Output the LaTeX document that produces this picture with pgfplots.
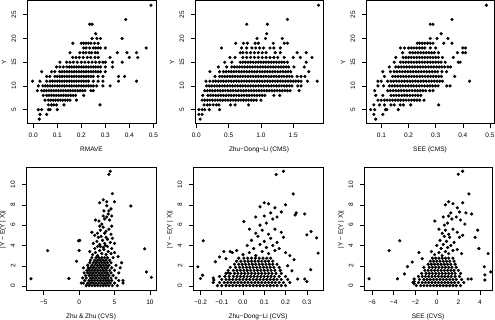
\documentclass[border=0pt]{standalone}
\usepackage{fontspec}
\setmainfont{Liberation Sans}
\usepackage{pgfplots}
\pgfplotsset{compat=1.18}

\pgfplotsset{
  rpanel/.style={
    scale only axis, width=129pt, height=123pt,
    anchor=south west,
    axis line style={line width=0.5pt},
    tick style={line width=0.5pt, black},
    tick align=outside, major tick length=4pt,
    tick pos=left,
    tick label style={font=\fontsize{6.5}{7.5}\selectfont},
    label style={font=\fontsize{6.5}{7.5}\selectfont},
    xticklabel style={anchor=center, yshift=-8pt},
    yticklabel style={rotate=90, anchor=center, yshift=9pt},
    xlabel style={at={(axis description cs:0.5,-0.211)}, anchor=center},
    ylabel style={at={(axis description cs:-0.178,0.5)}, anchor=center},
  },
  toprow/.style={ymin=2.04, ymax=27.96, ytick={5,10,15,20,25}, yticklabels={5,10,15,20,25}, ylabel={Y}},
  botrow/.style={ymin=-0.45, ymax=11.65, ytick={0,2,4,6,8,10}, yticklabels={0,2,4,6,8,10}, ylabel={|Y − E(Y | X)|}},
  rdots/.style={black, only marks, mark=*, mark size=1.4pt, mark options={draw=none, fill=black}},
}

\begin{document}
\begin{tikzpicture}
\path[use as bounding box] (0,0) rectangle (495pt,320pt);

% top left: RMAVE
\begin{axis}[rpanel, toprow, at={(27pt,196.3pt)}, width=129pt,
  xmin=-0.026, xmax=0.511, xtick={0,0.1,0.2,0.3,0.4,0.5}, xticklabels={0.0,0.1,0.2,0.3,0.4,0.5},
  xlabel={RMAVE}]
\addplot[rdots] coordinates {
(0.49,27) (0.385,24) (0.235,23) (0.245,23) (0.26,21)
(0.245,20) (0.265,20) (0.28,20) (0.37,20)
(0.165,19) (0.2,19) (0.21,19) (0.22,19) (0.23,19) (0.24,19) (0.255,19) (0.27,19)
(0.21,18) (0.22,18) (0.235,18) (0.25,18) (0.26,18) (0.27,18) (0.28,18) (0.3,18) (0.47,18)
(0.153,17) (0.194,17) (0.208,17) (0.219,17) (0.233,17) (0.243,17) (0.258,17) (0.268,17) (0.35,17) (0.39,17) (0.43,17)
(0.164,16) (0.178,16) (0.192,16) (0.208,16) (0.225,16) (0.239,16) (0.257,16) (0.271,16) (0.32,16) (0.4,16) (0.435,16)
(0.111,15) (0.139,15) (0.153,15) (0.167,15) (0.183,15) (0.2,15) (0.215,15) (0.23,15) (0.245,15) (0.26,15) (0.275,15) (0.29,15) (0.3,15) (0.33,15) (0.37,15)
(0.097,14) (0.111,14) (0.125,14) (0.14,14) (0.15,14) (0.16,14) (0.17,14) (0.18,14) (0.19,14) (0.2,14) (0.21,14) (0.22,14) (0.23,14) (0.24,14) (0.25,14) (0.26,14) (0.27,14) (0.28,14) (0.3,14) (0.33,14)
(0.035,13) (0.076,13) (0.09,13) (0.11,13) (0.12,13) (0.13,13) (0.14,13) (0.15,13) (0.16,13) (0.17,13) (0.18,13) (0.19,13) (0.2,13) (0.21,13) (0.22,13) (0.23,13) (0.24,13) (0.25,13) (0.26,13) (0.27,13) (0.28,13) (0.3,13)
(0.056,12) (0.069,12) (0.09,12) (0.1,12) (0.11,12) (0.12,12) (0.13,12) (0.14,12) (0.15,12) (0.16,12) (0.17,12) (0.18,12) (0.19,12) (0.2,12) (0.21,12) (0.22,12) (0.23,12) (0.24,12) (0.25,12) (0.27,12) (0.29,12) (0.355,12) (0.38,12)
(-0.003,11) (0.028,11) (0.056,11) (0.07,11) (0.08,11) (0.09,11) (0.1,11) (0.11,11) (0.12,11) (0.13,11) (0.14,11) (0.15,11) (0.16,11) (0.17,11) (0.18,11) (0.19,11) (0.2,11) (0.21,11) (0.22,11) (0.23,11) (0.25,11) (0.27,11) (0.29,11) (0.355,11) (0.43,11)
(0.021,10) (0.04,10) (0.05,10) (0.06,10) (0.07,10) (0.08,10) (0.09,10) (0.1,10) (0.11,10) (0.12,10) (0.13,10) (0.14,10) (0.15,10) (0.16,10) (0.17,10) (0.18,10) (0.19,10) (0.2,10) (0.21,10) (0.22,10) (0.23,10) (0.24,10) (0.25,10) (0.264,10) (0.29,10) (0.32,10)
(0.017,9) (0.035,9) (0.045,9) (0.055,9) (0.065,9) (0.075,9) (0.085,9) (0.095,9) (0.105,9) (0.115,9) (0.125,9) (0.135,9) (0.145,9) (0.155,9) (0.165,9) (0.175,9) (0.185,9) (0.195,9) (0.205,9) (0.215,9) (0.24,9) (0.25,9)
(0.042,8) (0.056,8) (0.066,8) (0.076,8) (0.086,8) (0.096,8) (0.106,8) (0.116,8) (0.126,8) (0.136,8) (0.146,8) (0.156,8) (0.166,8) (0.176,8) (0.21,8)
(0.049,7) (0.063,7) (0.073,7) (0.083,7) (0.093,7) (0.103,7) (0.113,7) (0.123,7) (0.133,7) (0.143,7) (0.153,7) (0.18,7)
(0.063,6) (0.076,6) (0.086,6) (0.097,6) (0.128,6) (0.278,6)
(0.021,5) (0.035,5) (0.063,5) (0.07,5) (0.1,5)
(0.028,4) (0.056,4) (0.025,3)
};
\end{axis}

% top middle: Zhu-Dong-Li (CMS)
\begin{axis}[rpanel, toprow, at={(195pt,196.3pt)}, width=128pt,
  xmin=-0.02, xmax=1.96, xtick={0,0.5,1,1.5}, xticklabels={0.0,0.5,1.0,1.5},
  xlabel={Zhu−Dong−Li (CMS)}]
\addplot[rdots] coordinates {
(1.89,27) (1.41,24) (0.78,23) (1.1,23) (1.09,21)
(0.94,20) (1.07,20) (1.33,20)
(0.61,19) (0.73,19) (0.79,19) (0.91,19) (0.96,19) (1.19,19) (1.36,19) (1.41,19)
(0.39,18) (0.7,18) (0.78,18) (0.86,18) (0.92,18) (0.98,18) (1.04,18) (1.14,18) (1.2,18) (1.3,18)
(0.68,17) (0.72,17) (0.78,17) (0.84,17) (0.9,17) (0.96,17) (1.02,17) (1.08,17) (1.22,17) (1.3,17) (1.56,17) (1.7,17)
(0.52,16) (0.6,16) (0.72,16) (0.78,16) (0.84,16) (0.9,16) (0.96,16) (1.02,16) (1.08,16) (1.14,16) (1.2,16) (1.26,16) (1.36,16) (1.5,16) (1.61,16) (1.79,16)
(0.44,15) (0.55,15) (0.68,15) (0.72,15) (0.76,15) (0.8,15) (0.84,15) (0.88,15) (0.92,15) (0.96,15) (1,15) (1.04,15) (1.08,15) (1.12,15) (1.16,15) (1.2,15) (1.24,15) (1.28,15) (1.32,15) (1.36,15) (1.41,15) (1.7,15)
(0.34,14) (0.47,14) (0.55,14) (0.59,14) (0.63,14) (0.67,14) (0.71,14) (0.75,14) (0.79,14) (0.83,14) (0.87,14) (0.91,14) (0.95,14) (0.99,14) (1.03,14) (1.07,14) (1.11,14) (1.15,14) (1.19,14) (1.23,14) (1.27,14) (1.31,14) (1.35,14) (1.39,14) (1.43,14) (1.51,14) (1.67,14)
(0.21,13) (0.36,13) (0.42,13) (0.46,13) (0.5,13) (0.54,13) (0.58,13) (0.62,13) (0.66,13) (0.7,13) (0.74,13) (0.78,13) (0.82,13) (0.86,13) (0.9,13) (0.94,13) (0.98,13) (1.02,13) (1.06,13) (1.1,13) (1.14,13) (1.18,13) (1.22,13) (1.26,13) (1.3,13) (1.34,13) (1.38,13) (1.42,13) (1.46,13) (1.74,13)
(0.29,12) (0.36,12) (0.4,12) (0.44,12) (0.48,12) (0.52,12) (0.56,12) (0.6,12) (0.64,12) (0.68,12) (0.72,12) (0.76,12) (0.8,12) (0.84,12) (0.88,12) (0.92,12) (0.96,12) (1,12) (1.04,12) (1.08,12) (1.12,12) (1.16,12) (1.2,12) (1.24,12) (1.28,12) (1.32,12) (1.36,12) (1.4,12) (1.44,12) (1.48,12) (1.56,12) (1.62,12) (1.68,12)
(0.15,11) (0.21,11) (0.26,11) (0.3,11) (0.34,11) (0.38,11) (0.42,11) (0.46,11) (0.5,11) (0.54,11) (0.58,11) (0.62,11) (0.66,11) (0.7,11) (0.74,11) (0.78,11) (0.82,11) (0.86,11) (0.9,11) (0.94,11) (0.98,11) (1.02,11) (1.06,11) (1.1,11) (1.14,11) (1.18,11) (1.22,11) (1.26,11) (1.3,11) (1.34,11) (1.38,11) (1.42,11) (1.46,11) (1.5,11) (1.54,11) (1.58,11) (1.62,11) (1.72,11) (1.87,11)
(0.16,10) (0.2,10) (0.24,10) (0.28,10) (0.32,10) (0.36,10) (0.4,10) (0.44,10) (0.48,10) (0.52,10) (0.56,10) (0.6,10) (0.64,10) (0.68,10) (0.72,10) (0.76,10) (0.8,10) (0.84,10) (0.88,10) (0.92,10) (0.96,10) (1,10) (1.04,10) (1.08,10) (1.12,10) (1.16,10) (1.2,10) (1.24,10) (1.28,10) (1.32,10) (1.36,10) (1.4,10) (1.44,10) (1.48,10) (1.57,10) (1.62,10)
(0.13,9) (0.17,9) (0.21,9) (0.25,9) (0.29,9) (0.33,9) (0.37,9) (0.41,9) (0.45,9) (0.49,9) (0.53,9) (0.57,9) (0.61,9) (0.65,9) (0.69,9) (0.73,9) (0.77,9) (0.81,9) (0.85,9) (0.89,9) (0.93,9) (0.97,9) (1.01,9) (1.05,9) (1.09,9) (1.13,9) (1.17,9) (1.21,9) (1.25,9) (1.29,9) (1.33,9) (1.37,9) (1.41,9) (1.45,9) (1.59,9)
(0.1,8) (0.18,8) (0.22,8) (0.26,8) (0.3,8) (0.34,8) (0.38,8) (0.42,8) (0.46,8) (0.5,8) (0.54,8) (0.58,8) (0.62,8) (0.66,8) (0.7,8) (0.74,8) (0.78,8) (0.82,8) (0.86,8) (0.9,8) (0.94,8) (0.98,8) (1.02,8) (1.06,8) (1.2,8) (1.29,8)
(0.09,7) (0.13,7) (0.17,7) (0.21,7) (0.25,7) (0.29,7) (0.33,7) (0.37,7) (0.41,7) (0.45,7) (0.49,7) (0.53,7) (0.57,7) (0.61,7) (0.65,7) (0.69,7) (0.73,7) (0.77,7) (0.81,7) (0.85,7) (0.89,7) (0.93,7) (1,7)
(0.12,6) (0.17,6) (0.21,6) (0.26,6) (0.31,6) (0.35,6) (0.53,6) (0.6,6) (0.81,6)
(0.04,5) (0.09,5) (0.13,5) (0.2,5) (0.36,5)
(0.04,4) (0.09,4) (0.06,3)
};
\end{axis}

% top right: SEE (CMS)
\begin{axis}[rpanel, toprow, at={(366pt,196.3pt)}, width=128pt,
  xmin=0.043, xmax=0.515, xtick={0.1,0.2,0.3,0.4,0.5}, xticklabels={0.1,0.2,0.3,0.4,0.5},
  xlabel={SEE (CMS)}]
\addplot[rdots] coordinates {
(0.487,27) (0.36,24) (0.28,23) (0.29,23) (0.32,21)
(0.28,20) (0.305,20) (0.345,20)
(0.232,19) (0.24,19) (0.25,19) (0.26,19) (0.27,19) (0.28,19) (0.29,19) (0.33,19) (0.36,19)
(0.17,18) (0.185,18) (0.2,18) (0.21,18) (0.22,18) (0.23,18) (0.24,18) (0.25,18) (0.26,18) (0.28,18) (0.3,18) (0.4,18) (0.41,18)
(0.178,17) (0.205,17) (0.215,17) (0.225,17) (0.235,17) (0.245,17) (0.255,17) (0.265,17) (0.275,17) (0.285,17) (0.295,17) (0.31,17) (0.38,17) (0.4,17) (0.41,17)
(0.153,16) (0.18,16) (0.19,16) (0.2,16) (0.21,16) (0.22,16) (0.23,16) (0.24,16) (0.25,16) (0.26,16) (0.27,16) (0.28,16) (0.29,16) (0.3,16) (0.31,16) (0.325,16) (0.365,16)
(0.147,15) (0.17,15) (0.18,15) (0.19,15) (0.2,15) (0.21,15) (0.22,15) (0.23,15) (0.24,15) (0.25,15) (0.26,15) (0.27,15) (0.28,15) (0.29,15) (0.3,15) (0.31,15) (0.32,15) (0.335,15) (0.383,15) (0.39,15)
(0.129,14) (0.153,14) (0.163,14) (0.173,14) (0.183,14) (0.193,14) (0.203,14) (0.213,14) (0.223,14) (0.233,14) (0.243,14) (0.253,14) (0.263,14) (0.273,14) (0.283,14) (0.293,14) (0.303,14) (0.313,14) (0.323,14) (0.333,14) (0.345,14) (0.355,14)
(0.105,13) (0.133,13) (0.147,13) (0.157,13) (0.167,13) (0.177,13) (0.187,13) (0.197,13) (0.207,13) (0.217,13) (0.227,13) (0.237,13) (0.247,13) (0.257,13) (0.267,13) (0.277,13) (0.287,13) (0.297,13) (0.307,13) (0.323,13) (0.34,13)
(0.111,12) (0.141,12) (0.151,12) (0.161,12) (0.171,12) (0.181,12) (0.191,12) (0.201,12) (0.211,12) (0.221,12) (0.231,12) (0.241,12) (0.251,12) (0.261,12) (0.271,12) (0.281,12) (0.291,12) (0.301,12) (0.311,12) (0.321,12) (0.37,12)
(0.087,11) (0.099,11) (0.123,11) (0.135,11) (0.145,11) (0.155,11) (0.165,11) (0.175,11) (0.185,11) (0.195,11) (0.205,11) (0.215,11) (0.225,11) (0.235,11) (0.245,11) (0.255,11) (0.265,11) (0.275,11) (0.285,11) (0.295,11) (0.305,11) (0.315,11) (0.325,11) (0.425,11)
(0.087,10) (0.108,10) (0.129,10) (0.139,10) (0.149,10) (0.159,10) (0.169,10) (0.179,10) (0.189,10) (0.199,10) (0.209,10) (0.219,10) (0.229,10) (0.239,10) (0.249,10) (0.259,10) (0.269,10) (0.279,10) (0.289,10) (0.299,10) (0.309,10) (0.341,10) (0.353,10)
(0.075,9) (0.123,9) (0.133,9) (0.143,9) (0.153,9) (0.163,9) (0.173,9) (0.183,9) (0.193,9) (0.203,9) (0.213,9) (0.223,9) (0.233,9) (0.243,9) (0.253,9) (0.263,9) (0.278,9) (0.29,9)
(0.079,8) (0.105,8) (0.135,8) (0.145,8) (0.155,8) (0.165,8) (0.175,8) (0.185,8) (0.195,8) (0.205,8) (0.215,8) (0.225,8) (0.235,8) (0.245,8)
(0.087,7) (0.099,7) (0.111,7) (0.121,7) (0.131,7) (0.141,7) (0.151,7) (0.161,7) (0.171,7) (0.181,7) (0.191,7) (0.201,7) (0.211,7) (0.221,7) (0.231,7) (0.241,7) (0.257,7)
(0.072,6) (0.093,6) (0.111,6) (0.135,6) (0.147,6) (0.169,6) (0.181,6) (0.208,6) (0.311,6)
(0.06,5) (0.075,5) (0.115,5) (0.12,5) (0.162,5)
(0.072,4) (0.105,4) (0.079,3)
};
\end{axis}

% bottom left: Zhu & Zhu (CVS)
\begin{axis}[rpanel, botrow, at={(26pt,29.3pt)}, width=130pt,
  xmin=-7.5, xmax=10.85, xtick={-5,0,5,10}, xticklabels={−5,0,5,10},
  xlabel={Zhu \& Zhu (CVS)}]
\addplot[rdots] coordinates {
(1.0,0.05) (1.4,0.05) (1.8,0.05) (2.2,0.05) (2.6,0.05) (3.0,0.05) (3.4,0.05) (3.8,0.05) (4.2,0.05) (4.7,0.05) (5.4,0.05)
(0.3,0.3) (0.6,0.3) (1.2,0.3) (1.6,0.3) (2.0,0.3) (2.4,0.3) (2.8,0.3) (3.2,0.3) (3.6,0.3) (4.0,0.3) (4.4,0.3) (5.0,0.3) (6.2,0.3)
(0.8,0.55) (1.4,0.55) (1.8,0.55) (2.2,0.55) (2.6,0.55) (3.0,0.55) (3.4,0.55) (3.8,0.55) (4.2,0.55) (4.6,0.55) (5.6,0.55) (6.2,0.55)
(0.5,0.8) (1.0,0.8) (1.6,0.8) (2.0,0.8) (2.4,0.8) (2.8,0.8) (3.2,0.8) (3.6,0.8) (4.0,0.8) (4.5,0.8) (5.2,0.8)
(0.9,1.05) (1.4,1.05) (1.8,1.05) (2.2,1.05) (2.6,1.05) (3.0,1.05) (3.4,1.05) (3.8,1.05) (4.2,1.05) (4.8,1.05)
(0.7,1.3) (1.2,1.3) (1.6,1.3) (2.0,1.3) (2.4,1.3) (2.8,1.3) (3.2,1.3) (3.6,1.3) (4.0,1.3) (4.5,1.3) (5.6,1.3)
(1.1,1.55) (1.4,1.55) (1.8,1.55) (2.2,1.55) (2.6,1.55) (3.0,1.55) (3.4,1.55) (3.8,1.55) (4.3,1.55) (5.0,1.55)
(0.6,1.8) (1.3,1.8) (1.6,1.8) (2.0,1.8) (2.4,1.8) (2.8,1.8) (3.2,1.8) (3.6,1.8) (4.0,1.8) (4.6,1.8) (5.8,1.8)
(1.2,2.05) (1.8,2.05) (2.2,2.05) (2.6,2.05) (3.0,2.05) (3.4,2.05) (3.8,2.05) (4.2,2.05) (5.2,2.05)
(1.5,2.3) (2.0,2.3) (2.4,2.3) (2.8,2.3) (3.2,2.3) (3.6,2.3) (4.0,2.3) (4.5,2.3) (6.0,2.3)
(1.6,2.55) (2.2,2.55) (2.6,2.55) (3.0,2.55) (3.4,2.55) (3.8,2.55) (4.3,2.55)
(1.8,2.8) (2.4,2.8) (2.8,2.8) (3.2,2.8) (3.6,2.8) (4.0,2.8) (4.8,2.8)
(1.9,3.1) (2.3,3.3) (2.6,3.0) (2.9,3.5) (3.2,3.2) (3.5,3.6) (3.8,3.1) (4.1,3.4) (4.5,3.2) (2.2,3.7) (3.0,3.9) (3.4,3.8) (4.0,3.9) (2.6,3.9) (4.6,3.7) (5.0,3.3) (3.7,4.0) (1.5,3.4) (5.5,2.9)
(2.0,4.2) (2.5,4.4) (2.9,4.1) (3.3,4.5) (3.6,4.2) (4.0,4.6) (4.4,4.3) (2.7,4.8) (3.1,4.9) (3.8,4.8) (4.7,4.7) (5.0,4.2)
(1.8,5.3) (2.6,5.2) (3.0,5.5) (3.4,5.8) (3.8,5.4) (4.2,5.6) (4.5,5.1) (2.9,5.9) (3.6,5.2) (4.6,5.9) (2.2,5.0)
(2.8,6.4) (3.2,6.1) (3.6,6.6) (3.9,6.8) (4.3,6.5) (4.6,6.9) (3.4,6.9) (4.1,7.1) (2.3,6.5)
(3.5,7.4) (4.2,7.4) (4.5,7.6) (3.9,7.9) (2.9,8.2) (3.4,8.5) (3.9,8.3) (5.0,8.3) (4.7,9.1)
(4.2,11.0) (4.4,11.3)
(-6.8,0.72) (-4.45,3.49) (-1.45,0.75) (-0.37,2.44) (-0.08,4.46) (0.08,4.5) (0.0,3.5) (7.3,7.88) (9.25,3.67) (9.5,1.4) (10.2,0.86)
};
\end{axis}

% bottom middle: Zhu-Dong-Li (CVS)
\begin{axis}[rpanel, botrow, at={(193pt,29.3pt)}, width=130pt,
  xmin=-0.235, xmax=0.376, xtick={-0.2,-0.1,0,0.1,0.2,0.3}, xticklabels={−0.2,−0.1,0.0,0.1,0.2,0.3},
  xlabel={Zhu−Dong−Li (CVS)}]
\addplot[rdots] coordinates {
(-0.12,0.05) (-0.1,0.05) (-0.08,0.05) (-0.064,0.05) (-0.048,0.05) (-0.032,0.05) (-0.016,0.05) (0,0.05) (0.016,0.05) (0.032,0.05) (0.048,0.05) (0.064,0.05) (0.08,0.05) (0.096,0.05) (0.112,0.05) (0.128,0.05) (0.144,0.05) (0.16,0.05) (0.18,0.05) (0.2,0.05)
(-0.14,0.35) (-0.11,0.35) (-0.088,0.35) (-0.072,0.35) (-0.056,0.35) (-0.04,0.35) (-0.024,0.35) (-0.008,0.35) (0.008,0.35) (0.024,0.35) (0.04,0.35) (0.056,0.35) (0.072,0.35) (0.088,0.35) (0.104,0.35) (0.12,0.35) (0.136,0.35) (0.152,0.35) (0.17,0.35) (0.19,0.35) (0.22,0.35)
(-0.1,0.65) (-0.08,0.65) (-0.064,0.65) (-0.048,0.65) (-0.032,0.65) (-0.016,0.65) (0,0.65) (0.016,0.65) (0.032,0.65) (0.048,0.65) (0.064,0.65) (0.08,0.65) (0.096,0.65) (0.112,0.65) (0.128,0.65) (0.144,0.65) (0.16,0.65) (0.18,0.65) (0.21,0.65)
(-0.11,0.95) (-0.085,0.95) (-0.065,0.95) (-0.045,0.95) (-0.028,0.95) (-0.012,0.95) (0.004,0.95) (0.02,0.95) (0.036,0.95) (0.052,0.95) (0.068,0.95) (0.084,0.95) (0.1,0.95) (0.116,0.95) (0.132,0.95) (0.148,0.95) (0.17,0.95) (0.2,0.95)
(-0.08,1.25) (-0.06,1.25) (-0.04,1.25) (-0.024,1.25) (-0.008,1.25) (0.008,1.25) (0.024,1.25) (0.04,1.25) (0.056,1.25) (0.072,1.25) (0.088,1.25) (0.104,1.25) (0.12,1.25) (0.136,1.25) (0.155,1.25) (0.18,1.25)
(-0.07,1.55) (-0.045,1.55) (-0.028,1.55) (-0.012,1.55) (0.004,1.55) (0.02,1.55) (0.036,1.55) (0.052,1.55) (0.068,1.55) (0.084,1.55) (0.1,1.55) (0.116,1.55) (0.132,1.55) (0.15,1.55) (0.175,1.55)
(-0.06,1.85) (-0.035,1.85) (-0.016,1.85) (0,1.85) (0.016,1.85) (0.032,1.85) (0.048,1.85) (0.064,1.85) (0.08,1.85) (0.096,1.85) (0.112,1.85) (0.128,1.85) (0.145,1.85) (0.17,1.85)
(-0.04,2.15) (-0.02,2.15) (-0.004,2.15) (0.012,2.15) (0.028,2.15) (0.044,2.15) (0.06,2.15) (0.076,2.15) (0.092,2.15) (0.108,2.15) (0.124,2.15) (0.14,2.15) (0.16,2.15)
(-0.03,2.45) (-0.01,2.45) (0.008,2.45) (0.024,2.45) (0.04,2.45) (0.056,2.45) (0.072,2.45) (0.088,2.45) (0.104,2.45) (0.12,2.45) (0.14,2.45)
(-0.02,2.75) (0.004,2.75) (0.022,2.75) (0.04,2.75) (0.058,2.75) (0.076,2.75) (0.094,2.75) (0.112,2.75) (0.13,2.75)
(0,3.1) (0.03,3.3) (0.06,3.0) (0.09,3.4) (0.12,3.2) (0.15,3.5) (-0.03,3.5) (0.05,3.7) (0.11,3.8) (0.02,4.0) (0.08,4.1) (0.14,4.0) (0.17,3.7) (0.2,3.3)
(0.04,4.5) (0.1,4.4) (0.13,4.7) (0.16,4.3) (0.07,4.9) (0.19,4.8) (0.06,5.2) (0.09,5.5) (0.12,5.1) (0.15,5.6) (0.03,5.6) (0.18,5.3)
(0.08,6.0) (0.11,6.2) (0.14,6.6) (0.06,6.8) (0.1,6.9) (0.16,6.8) (0.13,7.2) (0.08,7.8) (0.1,8.2) (0.12,8.1) (0.15,7.7) (0.18,7.3) (0.2,8.0) (0.004,6.35)
(-0.212,1.89) (-0.2,0.75) (-0.19,1.07) (-0.187,4.46) (-0.137,0.6) (-0.14,0.8) (-0.13,2.4) (-0.11,2.87) (-0.06,3.4) (-0.05,3.3) (-0.08,2.7) (-0.09,3.4) (-0.07,1.3)
(0.156,10.97) (0.19,11.3) (0.236,9.07) (0.25,7.2) (0.245,7.0) (0.29,7.1) (0.3,5.04) (0.32,5.37) (0.346,4.75) (0.353,3.25) (0.318,1.62) (0.29,0.7) (0.3,0.45) (0.257,0.7) (0.21,2.0) (0.23,1.5) (0.22,3.0) (0.24,2.6)
};
\end{axis}

% bottom right: SEE (CVS)
\begin{axis}[rpanel, botrow, at={(364pt,29.3pt)}, width=128pt,
  xmin=-6.75, xmax=5.12, xtick={-6,-4,-2,0,2,4}, xticklabels={−6,−4,−2,0,2,4},
  xlabel={SEE (CVS)}]
\addplot[rdots] coordinates {
(-1.9,0.05) (-1.5,0.05) (-1.2,0.05) (-0.9,0.05) (-0.6,0.05) (-0.3,0.05) (0,0.05) (0.3,0.05) (0.6,0.05) (0.9,0.05) (1.2,0.05) (1.5,0.05) (1.8,0.05) (2.2,0.05)
(-2.2,0.35) (-1.7,0.35) (-1.35,0.35) (-1.05,0.35) (-0.75,0.35) (-0.45,0.35) (-0.15,0.35) (0.15,0.35) (0.45,0.35) (0.75,0.35) (1.05,0.35) (1.35,0.35) (1.65,0.35) (2.0,0.35) (2.5,0.35)
(-1.6,0.65) (-1.2,0.65) (-0.9,0.65) (-0.6,0.65) (-0.3,0.65) (0,0.65) (0.3,0.65) (0.6,0.65) (0.9,0.65) (1.2,0.65) (1.5,0.65) (1.8,0.65) (2.3,0.65)
(-1.7,0.95) (-1.35,0.95) (-1.05,0.95) (-0.75,0.95) (-0.45,0.95) (-0.15,0.95) (0.15,0.95) (0.45,0.95) (0.75,0.95) (1.05,0.95) (1.35,0.95) (1.7,0.95) (2.1,0.95)
(-1.4,1.25) (-1.0,1.25) (-0.7,1.25) (-0.4,1.25) (-0.1,1.25) (0.2,1.25) (0.5,1.25) (0.8,1.25) (1.1,1.25) (1.4,1.25) (1.7,1.25) (2.2,1.25)
(-1.1,1.55) (-0.8,1.55) (-0.5,1.55) (-0.2,1.55) (0.1,1.55) (0.4,1.55) (0.7,1.55) (1.0,1.55) (1.3,1.55) (1.6,1.55) (2.0,1.55)
(-1.2,1.85) (-0.7,1.85) (-0.4,1.85) (-0.1,1.85) (0.2,1.85) (0.5,1.85) (0.8,1.85) (1.1,1.85) (1.4,1.85) (1.8,1.85)
(-0.8,2.15) (-0.5,2.15) (-0.2,2.15) (0.1,2.15) (0.4,2.15) (0.7,2.15) (1.0,2.15) (1.3,2.15) (1.7,2.15)
(-0.6,2.45) (-0.3,2.45) (0,2.45) (0.3,2.45) (0.6,2.45) (0.9,2.45) (1.2,2.45) (1.6,2.45)
(-0.4,2.75) (-0.1,2.75) (0.2,2.75) (0.5,2.75) (0.8,2.75) (1.1,2.75) (1.5,2.75)
(-0.2,3.1) (0.2,3.3) (0.5,3.0) (0.8,3.4) (1.1,3.2) (1.5,3.5) (-0.5,3.4) (0.4,3.7) (1.0,3.8) (0,4.0) (0.6,4.1) (1.3,4.0) (1.9,3.6) (2.3,3.2)
(0.3,4.5) (0.9,4.4) (1.2,4.8) (1.6,4.3) (0.7,4.9) (2.1,4.8) (0.5,5.2) (0.8,5.5) (1.1,5.1) (1.5,5.6) (0.2,5.6) (1.9,5.3) (2.4,5.0)
(0.7,6.0) (1.0,6.2) (1.4,6.6) (0.6,6.8) (1.1,6.9) (1.8,6.8) (1.3,7.2) (2.2,6.5) (0.8,8.0) (1.1,8.3) (1.5,8.1) (1.9,7.7) (2.1,7.3) (2.4,8.2) (2.7,7.2) (2.6,6.1)
(-6.28,0.72) (-4.42,3.49) (-3.43,4.46) (-3.65,0.72) (-3.0,1.2) (-2.72,1.92) (-2.28,2.37) (-2.1,0.7) (-2.1,0.45) (-2.1,0.25) (-1.66,3.3) (-1.35,2.7) (-0.18,6.4)
(1.99,11.0) (2.4,11.3) (2.98,9.07) (3.23,7.1) (3.79,5.5) (3.55,4.8) (3.9,3.7) (4.4,1.9) (4.46,1.1) (4.46,0.6) (4.76,3.2) (5.0,1.4) (2.9,0.7) (3.2,0.7)
};
\end{axis}
\end{tikzpicture}
\end{document}
